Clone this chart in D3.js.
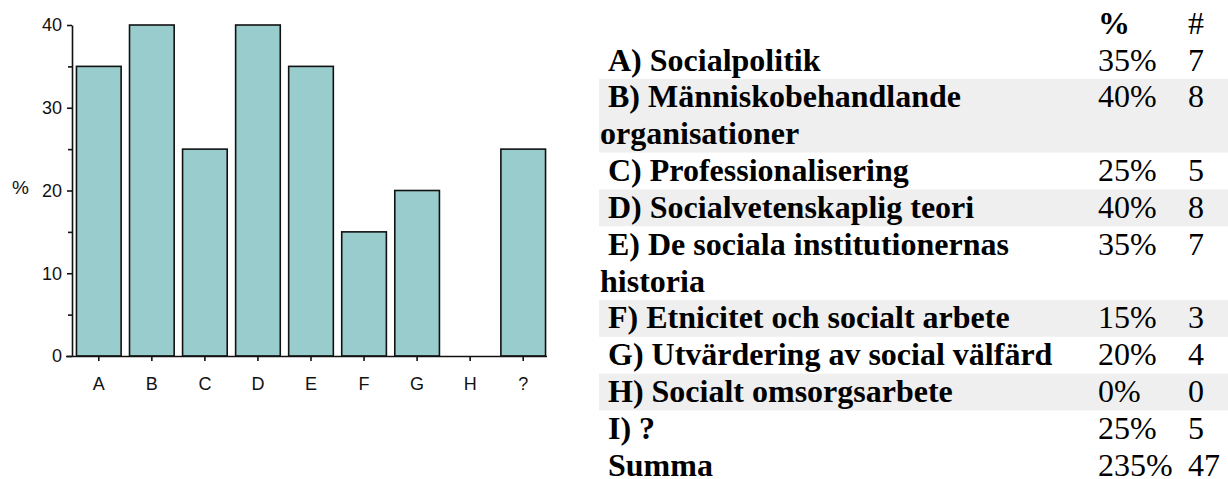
<!DOCTYPE html>
<html><head><meta charset="utf-8">
<script src="https://cdn.jsdelivr.net/npm/d3@7"></script>
<style>body{margin:0;background:#fff;overflow:hidden}</style></head><body>
<svg id="c" width="1228" height="479"></svg>
<script>
const categories = ["A","B","C","D","E","F","G","H","?"];
const percentValues = [35,40,25,40,35,15,20,0,25];
const counts = [7,8,5,8,7,3,4,0,5];
const rowLabels = ["A) Socialpolitik","B) Människobehandlande organisationer","C) Professionalisering","D) Socialvetenskaplig teori","E) De sociala institutionernas historia","F) Etnicitet och socialt arbete","G) Utvärdering av social välfärd","H) Socialt omsorgsarbete","I) ?"];
const yTicks = [0,10,20,30,40];
const yMinorTicks = [5,15,25,35];
const headerPercent = "%", headerCount = "#";
const sumLabel = "Summa", sumPercent = 235, sumCount = 47;

const svg = d3.select("#c");
const axisFont = '"Liberation Sans"';
const tFont = '"Liberation Serif"';

// ---- bar chart ----
const x = d3.scaleBand().domain(categories).range([72, 550]).paddingInner(0.13).paddingOuter(0.07);
const y = d3.scaleLinear().domain([0, 40]).range([356, 25]);

const g = svg.append("g");
g.selectAll("rect.bar").data(categories.map((c,i)=>({c, v: percentValues[i]})).filter(d=>d.v>0))
  .join("rect").attr("class","bar")
  .attr("x", d=>x(d.c)+0.75).attr("width", x.bandwidth()-1.5)
  .attr("y", d=>y(d.v)).attr("height", d=>y(0)-y(d.v))
  .attr("fill","#99cccc").attr("stroke","#111").attr("stroke-width",1.6);

const ya = g.append("g").attr("transform","translate(72,0)")
  .call(d3.axisLeft(y).tickValues(yTicks).tickSize(5).tickPadding(5).tickSizeOuter(0));
g.append("g").attr("transform","translate(72,0)")
  .call(d3.axisLeft(y).tickValues(yMinorTicks).tickSize(4).tickFormat("").tickSizeOuter(0))
  .select(".domain").remove();
const xa = g.append("g").attr("transform","translate(0,356)")
  .call(d3.axisBottom(x).tickSize(5).tickPadding(16).tickSizeOuter(0));
[ya, xa].forEach(a=>{
  a.selectAll("text").style("font-family", axisFont).style("font-size", "18px").attr("fill","#111");
  a.selectAll("line,path").attr("stroke","#111").attr("stroke-width",1.6);
});
g.selectAll(".tick line").attr("stroke","#111").attr("stroke-width",1.6);
xa.select(".domain").attr("d", `M66,0.5H${x.range()[1]-3}`);
g.append("text").attr("x", 12).attr("y", 194).style("font-family", axisFont)
  .style("font-size", "19px").attr("fill","#111").text("%");

// ---- table ----
const fs = 32, lineH = 36.85, colL = 600, colP = 1098, colN = 1188, maxW = 492;
const t = svg.append("g").attr("fill","#000");
function tx(sel){ return sel.style("font-family", tFont).style("font-size", fs + "px"); }

function wrap(label){
  const tmp = tx(t.append("text")).style("font-weight","bold");
  const words = label.split(" ");
  const lines = []; let cur = "";
  words.forEach(w=>{
    const test = cur ? cur + " " + w : w;
    tmp.text((lines.length===0 ? "\u00a0" : "") + test);
    if (tmp.node().getComputedTextLength() > maxW && cur) { lines.push(cur); cur = w; }
    else cur = test;
  });
  lines.push(cur);
  tmp.remove();
  return lines;
}

const rows = [];
rows.push({lines:[""], p: headerPercent, n: headerCount, header:true});
rowLabels.forEach((l,i)=>rows.push({lines: wrap(l), p: percentValues[i] + "%", n: String(counts[i]), shade: i%2===1}));
rows.push({lines:[sumLabel], p: sumPercent + "%", n: String(sumCount)});

let rowTop = 42 - lineH;
rows.forEach(r=>{
  const h = r.lines.length * lineH;
  if (r.shade) t.append("rect").attr("x", colL - 1).attr("y", rowTop).attr("width", 1228 - colL + 1).attr("height", h).attr("fill","#efefef");
  const base = rowTop + 28.5;
  r.lines.forEach((ln, k)=>{
    tx(t.append("text")).attr("x", colL).attr("y", base + k*lineH).style("font-weight","bold")
      .text((k===0 ? "\u00a0" : "") + ln);
  });
  tx(t.append("text")).attr("x", colP).attr("y", base).style("font-weight", r.header ? "bold" : "normal").text(r.p);
  tx(t.append("text")).attr("x", colN).attr("y", base).style("font-weight", "normal").text(r.n);
  rowTop += h;
});
</script>
</body></html>
